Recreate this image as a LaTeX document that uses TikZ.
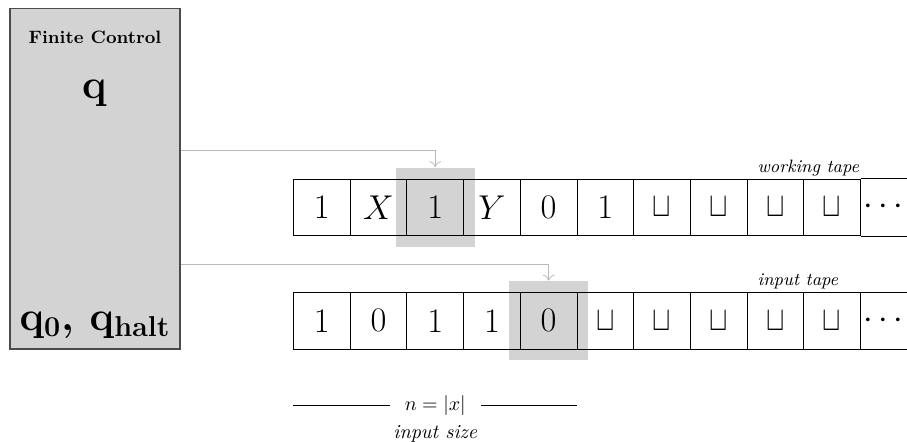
\documentclass[tikz,border=0pt]{standalone}
\usepackage{amsmath, amssymb}
\usepackage{xcolor}
\usepackage{tikz}
\usetikzlibrary{arrows.meta}

\definecolor{boxgray}{RGB}{211,211,211}
\definecolor{framegray}{RGB}{75,75,75}
\definecolor{linkgray}{RGB}{185,185,185}
\newcommand{\blank}{\scalebox{0.8}[1.0]{$\sqcup$}}

\begin{document}
\begin{tikzpicture}[
    cell/.style={draw, minimum size=1cm, inner sep=0pt, font=\LARGE},
    head/.style={fill=boxgray, minimum size=1.4cm, inner sep=0pt},
    control/.style={draw=framegray, semithick, fill=boxgray, minimum width=3cm, minimum height=6cm},
    link/.style={draw=linkgray, thin, -{To[length=3pt,width=6pt]}},
    tapelabel/.style={font=\small\itshape, inner sep=0pt, anchor=base west}]
    \useasboundingbox (-0.176,-1.623) rectangle (15.82,6.156);
    % finite control
    \node[control] (fc) at (1.5,3) {};
    \node[font=\small\bfseries] (fctitle) at (1.5,5.5) {Finite Control};
    \node[font=\huge\bfseries, anchor=base] (q) at (1.5,4.42) {q};
    \node[font=\huge\bfseries, anchor=base] (qset) at (1.5,0.33) {$\mathbf{q_0}$, $\mathbf{q_{halt}}$};
    % heads
    \node[head] (whead) at (7.5,2.5) {};
    \node[head] (ihead) at (9.5,0.5) {};
    % tapes
    \foreach \k/\lab in {1/1,2/$X$,3/1,4/$Y$,5/0,6/1,7/\blank,8/\blank,9/\blank,10/\blank}
        \node[cell] (w\k) at (\k+4.5,2.5) {\lab};
    \foreach \k/\lab in {1/1,2/0,3/1,4/1,5/0,6/\blank,7/\blank,8/\blank,9/\blank,10/\blank}
        \node[cell] (i\k) at (\k+4.5,0.5) {\lab};
    \node[font=\LARGE] (w11) at (15.45,2.5) {$\cdots$};
    \node[font=\LARGE] (i11) at (15.45,0.5) {$\cdots$};
    \draw (w10.north east) -- ++(1,0);
    \draw (w10.south east) -- ++(1,0);
    \draw (i10.north east) -- ++(1,0);
    \draw (i10.south east) -- ++(1,0);
    \node[tapelabel] (wlab) at (13.18,3.12) {working tape};
    \node[tapelabel] (ilab) at (13.18,1.12) {input tape};
    % links to heads
    \draw[link] (fc.east |- 0,3.51) -| (whead.north);
    \draw[link] (fc.east |- 0,1.5) -| (ihead.north);
    % input size
    \node[inner xsep=0.26cm] (size) at (7.5,-0.99) {$n = |x|$};
    \node[font=\itshape, anchor=base] (sizelab) at (7.5,-1.57) {input size};
    \draw (i1.west |- size) -- (size.west);
    \draw (size.east) -- (i5.east |- size);
\end{tikzpicture}
\end{document}
